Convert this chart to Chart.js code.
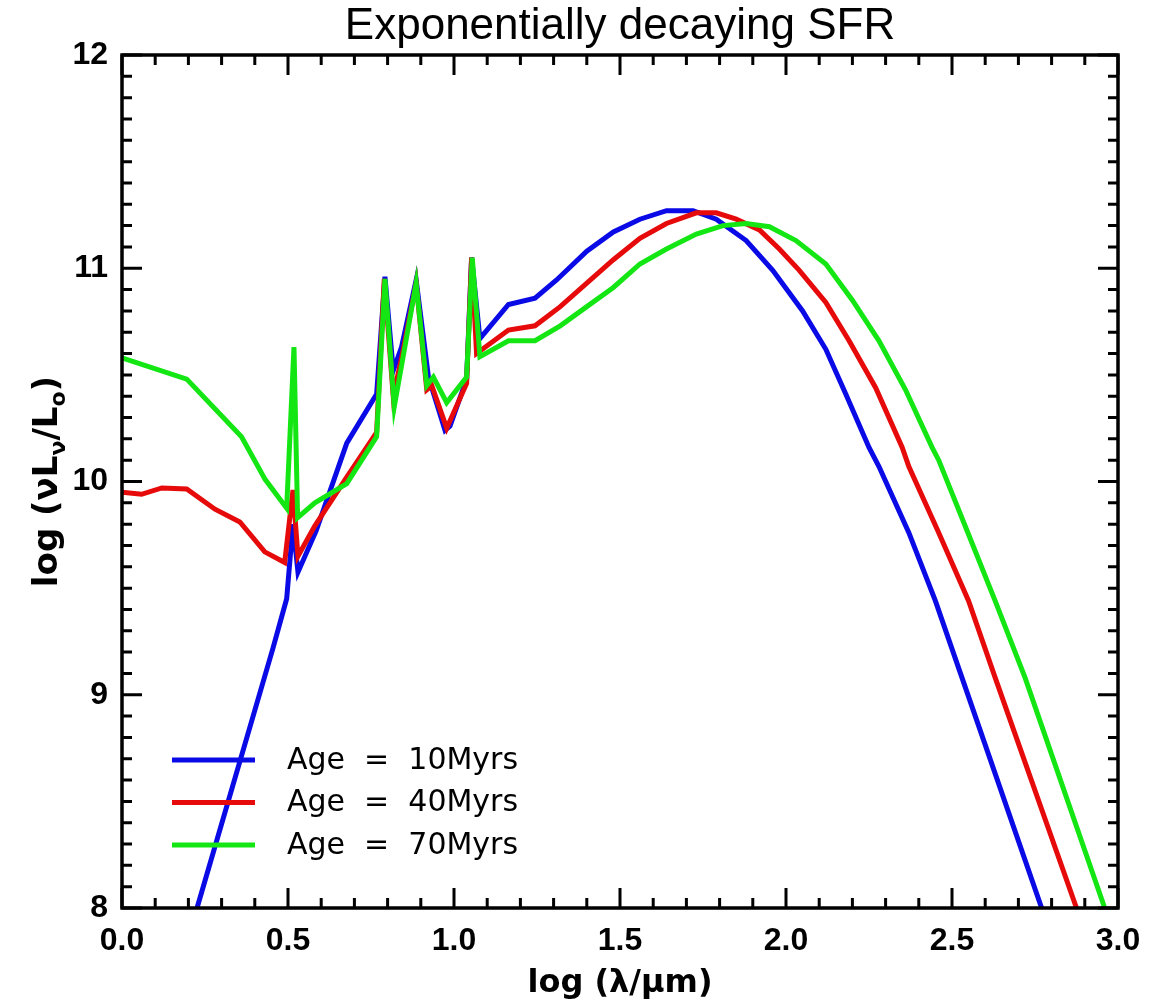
<!DOCTYPE html>
<html>
<head>
    <meta charset="utf-8">
    <script src="https://cdn.jsdelivr.net/npm/chart.js"></script>
    <style>
        body { margin: 0; background: #fff; }
    </style>
</head>
<body>
<canvas id="sedChart" width="1149" height="1003"></canvas>
<script>
// values: log(lambda/um) and log(nuL_nu/L_sun)
const chartTitle = "Exponentially decaying SFR"
const ageLabels = ["Age  =  10Myrs", "Age  =  40Myrs", "Age  =  70Myrs"]
const lineColors = ["#0a0ae6", "#e60a0a", "#14e614"]

const x10 = [0.226, 0.455, 0.496, 0.515, 0.530, 0.585, 0.677, 0.767, 0.792, 0.817, 0.842, 0.886, 0.923, 0.973, 0.988, 1.038, 1.053, 1.078, 1.164, 1.244, 1.309, 1.40, 1.48, 1.56, 1.64, 1.72, 1.79, 1.88, 1.96, 2.05, 2.12, 2.18, 2.25, 2.28, 2.37, 2.45, 2.53, 2.77]
const y10 = [8.0, 9.22, 9.45, 9.80, 9.575, 9.77, 10.18, 10.41, 10.96, 10.52, 10.63, 10.945, 10.49, 10.24, 10.26, 10.48, 11.05, 10.67, 10.83, 10.86, 10.945, 11.08, 11.17, 11.23, 11.27, 11.27, 11.23, 11.13, 10.99, 10.80, 10.62, 10.41, 10.16, 10.07, 9.76, 9.44, 9.08, 8.0]

const x40 = [0.0, 0.059, 0.12, 0.195, 0.28, 0.355, 0.43, 0.49, 0.515, 0.530, 0.58, 0.677, 0.767, 0.790, 0.817, 0.845, 0.886, 0.918, 0.933, 0.978, 1.038, 1.053, 1.068, 1.164, 1.244, 1.32, 1.40, 1.48, 1.56, 1.64, 1.73, 1.79, 1.85, 1.92, 1.98, 2.04, 2.12, 2.19, 2.27, 2.35, 2.37, 2.46, 2.55, 2.63, 2.875]
const y40 = [9.95, 9.94, 9.97, 9.965, 9.87, 9.81, 9.67, 9.62, 9.96, 9.65, 9.79, 10.02, 10.23, 10.95, 10.40, 10.60, 10.93, 10.43, 10.45, 10.25, 10.46, 11.05, 10.60, 10.71, 10.73, 10.82, 10.93, 11.04, 11.14, 11.21, 11.26, 11.26, 11.23, 11.18, 11.09, 10.99, 10.84, 10.66, 10.44, 10.16, 10.07, 9.76, 9.44, 9.08, 8.0]

const x70 = [0.0, 0.195, 0.36, 0.431, 0.496, 0.518, 0.529, 0.581, 0.677, 0.767, 0.792, 0.82, 0.886, 0.918, 0.938, 0.978, 1.038, 1.055, 1.078, 1.164, 1.244, 1.32, 1.40, 1.48, 1.56, 1.64, 1.73, 1.81, 1.88, 1.95, 2.03, 2.12, 2.20, 2.28, 2.36, 2.44, 2.46, 2.54, 2.63, 2.72, 2.96]
const y70 = [10.58, 10.48, 10.21, 10.01, 9.875, 10.63, 9.83, 9.90, 9.99, 10.21, 10.95, 10.35, 10.93, 10.45, 10.49, 10.37, 10.49, 11.05, 10.585, 10.66, 10.66, 10.73, 10.82, 10.91, 11.02, 11.09, 11.16, 11.20, 11.21, 11.195, 11.13, 11.02, 10.85, 10.66, 10.43, 10.16, 10.10, 9.79, 9.44, 9.08, 8.0]

const xSeries = [x10, x40, x70]
const ySeries = [y10, y40, y70]

function toPoints(xs, ys){
    var pts = []
    for (let i = 0; i < xs.length; i++){
        pts.push({x: xs[i], y: ys[i]})
    }
    return pts
}

var datasets = []
for (let i = 0; i < ageLabels.length; i++){
    datasets.push({
        label: ageLabels[i],
        data: toPoints(xSeries[i], ySeries[i]),
        showLine: true,
        borderColor: lineColors[i],
        backgroundColor: lineColors[i],
        borderWidth: 5,
        pointRadius: 0,
        tension: 0,
        order: ageLabels.length - i   // green drawn on top, like the original
    })
}

// IDL style box: inward ticks on all sides, title over the plot, y title with subscripts, legend in the plot
const idlBox = {
    id: 'idlBox',
    afterDatasetsDraw(chart){
        const ctx = chart.ctx
        const a = chart.chartArea
        const xs = chart.scales.x
        const ys = chart.scales.y
        ctx.save()
        ctx.strokeStyle = '#000'
        ctx.lineWidth = 3.5
        ctx.strokeRect(a.left, a.top, a.right - a.left, a.bottom - a.top)
        ctx.lineWidth = 3
        ctx.beginPath()
        for (let k = 0; k <= 30; k++){
            const v = k / 10
            const px = xs.getPixelForValue(v)
            const len = (k % 5 == 0) ? 20 : 10
            ctx.moveTo(px, a.bottom); ctx.lineTo(px, a.bottom - len)
            ctx.moveTo(px, a.top); ctx.lineTo(px, a.top + len)
        }
        for (let k = 0; k <= 40; k++){
            const v = 8 + k / 10
            const py = ys.getPixelForValue(v)
            const len = (k % 10 == 0) ? 20 : 10
            ctx.moveTo(a.left, py); ctx.lineTo(a.left + len, py)
            ctx.moveTo(a.right, py); ctx.lineTo(a.right - len, py)
        }
        ctx.stroke()

        // title, centred over the plot box
        ctx.fillStyle = '#000'
        ctx.font = '44px "Liberation Sans", sans-serif'
        ctx.textAlign = 'center'
        ctx.textBaseline = 'middle'
        ctx.fillText(chartTitle, (a.left + a.right) / 2, 27)

        // legend
        ctx.font = '30px "DejaVu Sans", sans-serif'
        ctx.textAlign = 'left'
        chart.data.datasets.forEach(function(ds, i){
            const ly = a.top + 705 + i * 42.5
            ctx.strokeStyle = ds.borderColor
            ctx.lineWidth = 5
            ctx.beginPath()
            ctx.moveTo(a.left + 50, ly)
            ctx.lineTo(a.left + 133, ly)
            ctx.stroke()
            ctx.fillStyle = '#000'
            ctx.fillText(ds.label, a.left + 165, ly + 1)
        })

        // y axis title: log (nu L_nu / L_o)
        ctx.translate(45, (a.top + a.bottom) / 2)
        ctx.rotate(-Math.PI / 2)
        ctx.fillStyle = '#000'
        ctx.textBaseline = 'alphabetic'
        const big = 'bold 34px "DejaVu Sans", sans-serif'
        const small = 'bold 22px "DejaVu Sans", sans-serif'
        const parts = [["log (\u03bdL", big, 0], ["\u03bd", small, 8], ["/L", big, 0], ["o", small, 8], [")", big, 0]]
        var total = 0
        parts.forEach(function(p){ ctx.font = p[1]; total += ctx.measureText(p[0]).width })
        var cx = -total / 2
        parts.forEach(function(p){
            ctx.font = p[1]
            ctx.fillText(p[0], cx, 12 + p[2])
            cx += ctx.measureText(p[0]).width
        })
        ctx.restore()
    }
}

const chart = document.getElementById("sedChart")
let sedChart = new Chart(chart, {
    type: 'scatter',
    data: { datasets: datasets },
    options: {
        responsive: false,
        animation: false,
        layout: { padding: { left: 0, right: 31, top: 55, bottom: 0 } },
        plugins: {
            legend: { display: false },
            tooltip: { enabled: false },
            title: { display: false }
        },
        scales: {
            x: {
                type: 'linear',
                min: 0,
                max: 3,
                grid: { display: false, drawTicks: false },
                border: { display: false },
                ticks: {
                    stepSize: 0.5,
                    padding: 14,
                    color: '#000',
                    maxRotation: 0,
                    font: { family: '"Liberation Sans", sans-serif', size: 32, weight: 'bold' },
                    callback: function(v){ return v.toFixed(1) }
                },
                title: {
                    display: true,
                    text: 'log (\u03bb/\u03bcm)',
                    color: '#000',
                    font: { family: '"DejaVu Sans", sans-serif', size: 32, weight: 'bold' },
                    padding: { top: 0, bottom: 0 }
                },
                afterFit: function(s){ s.height = 95; s.paddingLeft = 0; s.paddingRight = 0 }
            },
            y: {
                type: 'linear',
                min: 8,
                max: 12,
                grid: { display: false, drawTicks: false },
                border: { display: false },
                ticks: {
                    stepSize: 1,
                    padding: 14,
                    color: '#000',
                    font: { family: '"Liberation Sans", sans-serif', size: 32, weight: 'bold' }
                },
                afterFit: function(s){ s.width = 122; s.paddingTop = 0; s.paddingBottom = 0 }
            }
        }
    },
    plugins: [idlBox]
})
</script>
</body>
</html>
